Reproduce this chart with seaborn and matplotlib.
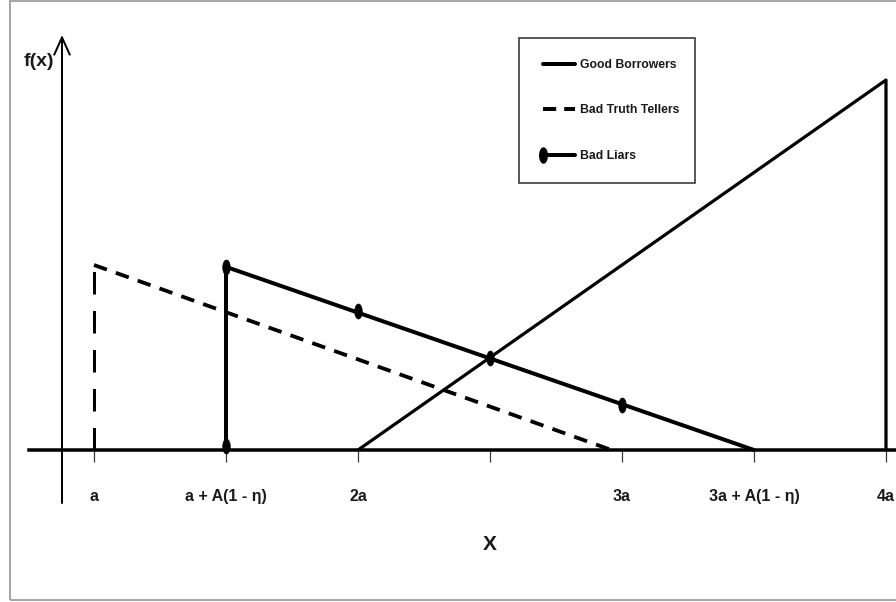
import numpy as np
import matplotlib
matplotlib.use("Agg")
import matplotlib.pyplot as plt
import seaborn as sns
from matplotlib.lines import Line2D
from matplotlib.patches import Rectangle
from matplotlib.path import Path

# ---------------- data ----------------
tick_pos = [1.0, 1.5, 2.0, 2.5, 3.0, 3.5, 4.0]
tick_labels = ["a", "a + A(1 - η)", "2a", "", "3a", "3a + A(1 - η)", "4a"]

good_x = [2.0, 4.0, 4.0]
good_y = [0.0, 1.0, 0.0]

truth_x = [1.0, 1.0, 2.96]
truth_y = [0.0, 0.5, 0.0]

liars_x = [1.5, 1.5, 3.5]
liars_y = [0.0, 0.495, 0.0]

liars_mark_x = [1.5, 1.5, 2.0, 2.5, 3.0]
liars_mark_y = [0.01, 0.495, 0.376, 0.249, 0.122]

series_labels = ["Good Borrowers", "Bad Truth Tellers", "Bad Liars"]
x_label = "X"
y_label = "f(x)"

# ---------------- style ----------------
sns.set_style("white")
plt.rcParams["font.family"] = ["Liberation Sans Narrow", "Liberation Sans", "DejaVu Sans"]
TXT = "#1a1a1a"

W, H, DPI = 896, 602, 100
fig = plt.figure(figsize=(W / DPI, H / DPI), dpi=DPI)
fig.patch.set_facecolor("white")
ax = fig.add_axes([0, 0, 1, 1])
ax.set_facecolor("none")

# pixel <-> data mapping (x: a at px 94, 264 px per unit; y: 0 at py 450, 370 px per unit)
def px2x(px):
    return 1 + (px - 94) / 264.0

def py2y(py):
    return (450 - py) / 370.0

ax.set_xlim(px2x(0), px2x(W))
ax.set_ylim(py2y(H), py2y(0))

PT = 72.0 / DPI  # points per pixel

# outer gray frame
fig.patches.append(Rectangle((10 / W, 2 / H), 1.2, 1 - 3 / H, transform=fig.transFigure,
                             fill=False, edgecolor="#a6a6a6", lw=2 * PT, zorder=0))

# ellipse marker (vertically stretched)
th = np.linspace(0, 2 * np.pi, 60)
ell = Path(np.column_stack([0.5 * np.cos(th), np.sin(th)]), closed=True)

# Good borrowers
sns.lineplot(x=good_x, y=good_y, sort=False, estimator=None, color="black",
             lw=3.2 * PT, ax=ax, zorder=3)
# Bad truth tellers (vertical part + sloped part)
sns.lineplot(x=truth_x[:2], y=truth_y[:2], sort=False, estimator=None, color="black",
             lw=3 * PT, linestyle=(0, (7.5, 5.5)), ax=ax, zorder=3)
sns.lineplot(x=truth_x[1:], y=truth_y[1:], sort=False, estimator=None, color="black",
             lw=3.8 * PT, linestyle=(0, (3.6, 2.5)), ax=ax, zorder=3)
# Bad liars
sns.lineplot(x=liars_x, y=liars_y, sort=False, estimator=None, color="black",
             lw=4 * PT, ax=ax, zorder=4)
sns.lineplot(x=liars_mark_x, y=liars_mark_y, sort=False, estimator=None, color="black",
             linestyle="", marker=ell, markersize=15 * PT, markeredgecolor="black",
             markeredgewidth=0.5, ax=ax, zorder=5)

# axes: x axis via bottom spine, y axis arrow
for s in ["top", "right", "left"]:
    ax.spines[s].set_visible(False)
ax.spines["bottom"].set_position(("data", 0))
ax.spines["bottom"].set_bounds(px2x(29), px2x(W + 5))
ax.spines["bottom"].set_linewidth(3.5 * PT)
ax.spines["bottom"].set_color("black")
ax.spines["bottom"].set_zorder(2)

ax.set_xticks(tick_pos)
ax.set_xticklabels(tick_labels, fontsize=11.5, fontweight="bold", color=TXT)
ax.tick_params(axis="x", direction="out", length=12 * PT, width=1.2 * PT,
               color="#333333", pad=27 * PT, bottom=True)
ax.set_yticks([])

yax_x = px2x(62)
ax.annotate("", xy=(yax_x, py2y(35)), xytext=(yax_x, py2y(503)),
            arrowprops=dict(arrowstyle="->,head_length=0.62,head_width=0.28",
                            mutation_scale=20, lw=2 * PT, color="black",
                            shrinkA=0, shrinkB=0), zorder=2)

# axis labels
ax.text(px2x(39), py2y(62), y_label, fontsize=14, fontweight="bold", color=TXT,
        ha="center", va="center")
ax.text(px2x(490), py2y(545), x_label, fontsize=15, fontweight="bold", color=TXT,
        ha="center", va="center")

# legend
handles = [
    Line2D([], [], color="black", lw=4 * PT),
    Line2D([], [], color="black", lw=4 * PT, linestyle=(0, (3.3, 2.0))),
    Line2D([], [], color="black", lw=4 * PT, marker=ell, markersize=15 * PT,
           markevery=[0]),
]
leg = ax.legend(handles, series_labels, loc="upper left",
                bbox_to_anchor=(519 / W, 1 - 180 / H, 176 / W, 142 / H),
                bbox_transform=fig.transFigure, mode="expand", borderaxespad=0,
                frameon=True, fancybox=False, numpoints=2,
                prop=dict(size=8.8, weight="bold"), handlelength=3.2,
                handletextpad=0.1, labelspacing=2.75, borderpad=1.7)
leg.get_frame().set_edgecolor("black")
leg.get_frame().set_linewidth(1.6 * PT)
for t in leg.get_texts():
    t.set_color(TXT)
for h in leg.legend_handles:
    h.set_markevery([0])

fig.savefig("out.png", dpi=DPI, facecolor="white")
